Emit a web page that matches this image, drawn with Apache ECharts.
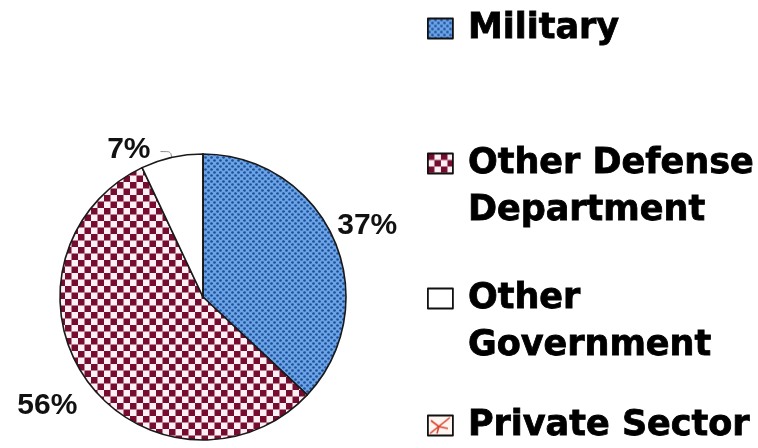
<!DOCTYPE html>
<html>
<head>
<meta charset="utf-8">
<script src="https://cdn.jsdelivr.net/npm/echarts@6/dist/echarts.min.js"></script>
<style>
  html, body { margin: 0; padding: 0; background: #ffffff; }
  #chart { width: 758px; height: 448px; }
</style>
</head>
<body>
<div id="chart"></div>
<script>
// Workforce share by employer
const categories = ['Military', 'Other Defense Department', 'Other Government', 'Private Sector'];
const shares = [37, 56, 7, 0];
// Legend text, broken into the lines it is set on
const legendLines = [['Military'], ['Other Defense', 'Department'], ['Other', 'Government'], ['Private Sector']];

// Build a repeating fill from a small canvas tile
function makeTile(w, h, draw) {
  const c = document.createElement('canvas');
  c.width = w; c.height = h;
  draw(c.getContext('2d'), w, h);
  return { image: c, repeat: 'repeat' };
}

const dotFill = makeTile(6, 6, g => {
  g.fillStyle = '#6ba4e6';
  g.fillRect(0, 0, 6, 6);
  g.fillStyle = '#1f4f98';
  [[1.5, 1.5], [4.5, 4.5]].forEach(([x, y]) => {
    g.beginPath(); g.arc(x, y, 1.35, 0, Math.PI * 2); g.fill();
  });
});

const checkFill = makeTile(13, 13, g => {
  g.fillStyle = '#fdf0f3';
  g.fillRect(0, 0, 13, 13);
  g.fillStyle = '#760c30';
  g.fillRect(0, 0, 6.5, 6.5);
  g.fillRect(6.5, 6.5, 6.5, 6.5);
});

const hatchFill = makeTile(24, 20, g => {
  g.fillStyle = '#fff6f2';
  g.fillRect(0, 0, 24, 20);
  g.strokeStyle = '#d8402e';
  g.lineWidth = 1.6;
  g.beginPath();
  g.moveTo(2, 18); g.lineTo(22, 2);
  g.moveTo(3, 5); g.lineTo(11, 11); g.lineTo(9, 18);
  g.moveTo(11, 11); g.lineTo(20, 13);
  g.stroke();
});

const fills = [dotFill, checkFill, '#ffffff', hatchFill];

// Legend placement (top of each entry) and label nudges
const legendTops = [5, 93, 228, 402];
const labelNudges = [[-2, -14], [-5, 25], [-5, -2], [0, 0]];

// A leading blank line keeps the first text line level with the swatch
function legendText(name) {
  const lines = legendLines[categories.indexOf(name)];
  return lines.length > 1 ? '\n' + lines.join('\n') : lines[0];
}

const chart = echarts.init(document.getElementById('chart'), null, { renderer: 'canvas' });

chart.setOption({
  animation: false,
  backgroundColor: '#ffffff',
  legend: categories.map((name, i) => ({
    data: [name],
    left: 427,
    top: legendTops[i],
    padding: 0,
    orient: 'vertical',
    icon: 'rect',
    itemWidth: 25,
    itemHeight: 20,
    selectedMode: false,
    formatter: legendText,
    itemStyle: { borderColor: '#111111', borderWidth: 1.8 },
    textStyle: {
      fontFamily: 'DejaVu Sans',
      fontWeight: 'bold',
      fontSize: 35,
      lineHeight: 47,
      color: '#000000',
      textBorderColor: '#000000',
      textBorderWidth: 0.8,
      padding: [0, 0, 0, 10]
    }
  })),
  series: [{
    type: 'pie',
    center: [203, 297],
    radius: 143,
    startAngle: 90,
    clockwise: true,
    avoidLabelOverlap: false,
    emphasis: { disabled: true },
    itemStyle: { borderColor: '#1a1a1a', borderWidth: 1.6 },
    label: {
      show: true,
      position: 'outside',
      formatter: '{c}%',
      fontFamily: 'Liberation Sans',
      fontWeight: 'bold',
      fontSize: 30,
      color: '#111111'
    },
    labelLine: { show: false, length: 0, length2: 0 },
    labelLayout: p => ({ dx: labelNudges[p.dataIndex][0], dy: labelNudges[p.dataIndex][1] }),
    data: categories.map((name, i) => {
      const item = { name, value: shares[i], itemStyle: { color: fills[i] } };
      if (i === 2) {
        item.labelLine = { show: true, length: 6, length2: 10, smooth: true, lineStyle: { color: '#888888', width: 1 } };
      }
      if (shares[i] === 0) {
        item.label = { show: false };
      }
      return item;
    })
  }]
});
</script>
</body>
</html>
